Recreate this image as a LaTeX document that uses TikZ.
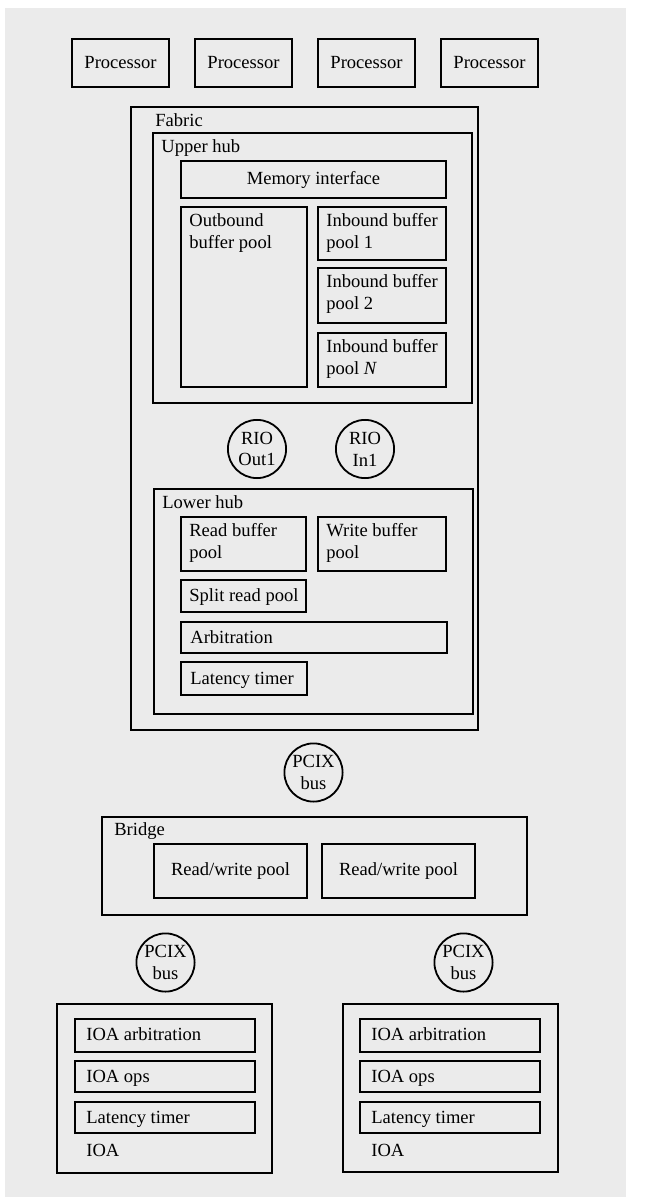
\documentclass[tikz,border=0pt]{standalone}
\usepackage{fontspec}
\setmainfont{Liberation Serif}
\usepackage{tikz}

\begin{document}
\begin{tikzpicture}[x=0.55pt, y=-0.55pt, font=\fontsize{10.2}{12}\selectfont,
		box/.style={line width=1.3pt},
		bus/.style={draw, circle, line width=1pt, minimum size=32pt, inner sep=0pt, align=center},
		lbl/.style={anchor=base west, inner sep=0pt},
		pool/.style={anchor=north west, align=left, inner xsep=4.4pt, inner ysep=3.6pt}]
		\useasboundingbox (0,0) rectangle (646,1197);
		\fill[black!8] (5,8) rectangle (626,1197);

		% processors
		\draw[box] (72,39) rectangle (169,87) node[pos=.5] (proc1) {Processor};
		\draw[box] (195,39) rectangle (292,87) node[pos=.5] (proc2) {Processor};
		\draw[box] (318,39) rectangle (415,87) node[pos=.5] (proc3) {Processor};
		\draw[box] (441,39) rectangle (538,87) node[pos=.5] (proc4) {Processor};

		% fabric
		\draw[box] (131,107) rectangle (478,730);
		\node[lbl] (fabric) at (155,127) {Fabric};

		\draw[box] (153,133) rectangle (472,403);
		\node[lbl] (upper) at (161,153) {Upper hub};
		\draw[box] (181,161) rectangle (446,198) node[pos=.5] (mem) {Memory interface};
		\draw[box] (181,207) rectangle (307,387);
		\node[pool] (outb) at (181,207) {Outbound\\buffer pool};
		\draw[box] (318,207) rectangle (446,260);
		\node[pool] (inb1) at (318,207) {Inbound buffer\\pool 1};
		\draw[box] (318,268) rectangle (446,323);
		\node[pool] (inb2) at (318,268) {Inbound buffer\\pool 2};
		\draw[box] (318,333) rectangle (446,387);
		\node[pool] (inbn) at (318,333) {Inbound buffer\\pool \textit{N}};

		\node[bus] (rioout) at (257,449) {RIO\\Out1};
		\node[bus] (rioin) at (365,449) {RIO\\In1};

		\draw[box] (154,489) rectangle (473,714);
		\node[lbl] (lower) at (162,508) {Lower hub};
		\draw[box] (181,517) rectangle (306,571);
		\node[pool] (readb) at (181,517) {Read buffer\\pool};
		\draw[box] (318,517) rectangle (446,571);
		\node[pool] (writeb) at (318,517) {Write buffer\\pool};
		\draw[box] (181,580) rectangle (306,612);
		\node[lbl] (split) at (189,601) {Split read pool};
		\draw[box] (181,622) rectangle (447,653);
		\node[lbl] (arb) at (190,643) {Arbitration};
		\draw[box] (181,662) rectangle (307,695);
		\node[lbl] (lat) at (190,684) {Latency timer};

		\node[bus] (pcix) at (313.5,772.5) {PCIX\\bus};

		% bridge
		\draw[box] (102,817) rectangle (527,915);
		\node[lbl] (bridge) at (114,835) {Bridge};
		\draw[box] (154,844) rectangle (307,898) node[pos=.5] (rw1) {Read/write pool};
		\draw[box] (322,844) rectangle (475,898) node[pos=.5] (rw2) {Read/write pool};

		\node[bus] (pcixa) at (165.5,962.5) {PCIX\\bus};
		\node[bus] (pcixb) at (463.5,962.5) {PCIX\\bus};

		% IOAs
		\draw[box] (57,1004) rectangle (272,1173);
		\draw[box] (75,1019) rectangle (255,1052);
		\node[lbl] (arba) at (86,1040) {IOA arbitration};
		\draw[box] (75,1061) rectangle (255,1092);
		\node[lbl] (opsa) at (86,1082) {IOA ops};
		\draw[box] (75,1102) rectangle (255,1133);
		\node[lbl] (lata) at (86,1123) {Latency timer};
		\node[lbl] (ioaa) at (86,1156) {IOA};

		\draw[box] (343,1004) rectangle (558,1172);
		\draw[box] (360,1019) rectangle (540,1052);
		\node[lbl] (arbb) at (371,1040) {IOA arbitration};
		\draw[box] (360,1061) rectangle (540,1092);
		\node[lbl] (opsb) at (371,1082) {IOA ops};
		\draw[box] (360,1102) rectangle (540,1133);
		\node[lbl] (latb) at (371,1123) {Latency timer};
		\node[lbl] (ioab) at (371,1156) {IOA};
	\end{tikzpicture}
\end{document}
